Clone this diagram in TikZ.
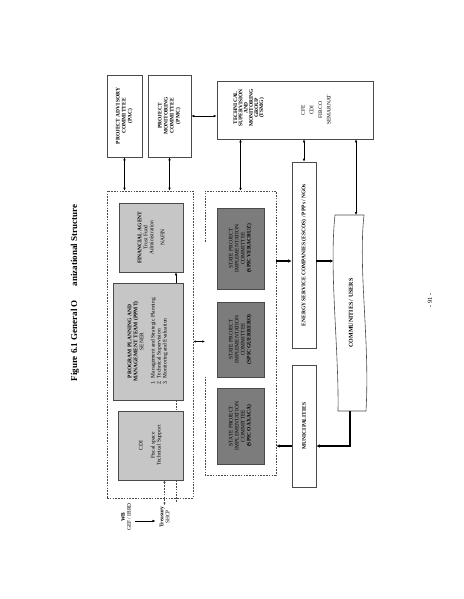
\documentclass[tikz,border=0pt]{standalone}
\usepackage{fontspec}
\setmainfont{Liberation Serif}
\usetikzlibrary{arrows.meta}
\definecolor{lightfill}{HTML}{C6C6C6}
\definecolor{darkfill}{HTML}{7C7C7C}
\definecolor{edge}{HTML}{4A4A4A}
\tikzset{
  box/.style={draw=edge, line width=0.6pt, inner sep=0pt},
  lightbox/.style={box, fill=lightfill},
  darkbox/.style={box, fill=darkfill},
  dbox/.style={draw=edge, line width=0.6pt, dash pattern=on 1.6pt off 1.2pt, inner sep=0pt},
  dline/.style={draw=edge, line width=0.6pt, dash pattern=on 1.6pt off 1.2pt},
  lbl/.style={rotate=90, align=center, inner sep=0pt, font=\fontsize{5.5}{6}\selectfont},
  blbl/.style={lbl, font=\fontsize{5.5}{6}\selectfont\bfseries},
  arr/.style={draw=black, line width=0.6pt, -{Latex[length=3pt,width=2.6pt]}},
  dbl/.style={draw=black, line width=0.6pt, {Latex[length=3pt,width=2.6pt]}-{Latex[length=3pt,width=2.6pt]}},
  ddbl/.style={dline, {Latex[length=2.6pt,width=2.4pt]}-{Latex[length=2.6pt,width=2.4pt]}},
  thickarr/.style={draw=black, line width=1.3pt, -{Latex[length=3.5pt,width=3.5pt]}}
}
\begin{document}
\begin{tikzpicture}[x=1pt,y=-1pt]
\useasboundingbox (0,0) rectangle (463,599);
\fill[white] (0,0) rectangle (463,599);

% title and page number
\node[rotate=90, inner sep=0pt, font=\fontsize{9}{10}\selectfont\bfseries] (title) at (75,293) {Figure 6.1 General O\hspace{14pt}anizational Structure};
\node[lbl, font=\fontsize{6.5}{7}\selectfont] (pageno) at (430,300) {- 91 -};

% top committees
\node[box, minimum width=35, minimum height=82] (pac) at (124.5,116) {};
\node[blbl] (pact) at (pac.center) {PROJECT ADVISORY\\COMMITTEE\\(PAC)};
\node[box, minimum width=43, minimum height=82] (pmc) at (169.5,116) {};
\node[blbl] (pmct) at (pmc.center) {PROJECT\\MONITORING\\COMMITTEE\\(PMC)};
\node[box, minimum width=156, minimum height=58] (tsmg) at (295,110) {};
\node[blbl, font=\fontsize{5.5}{5.2}\selectfont\bfseries] (tsmgt) at (249,108) {TECHNICAL\\SUPERVISION\\AND\\MONITORING\\GROUP\\(TSMG)};
\node[lbl, font=\fontsize{5.5}{8.6}\selectfont] (tsmgm) at (316,110) {CFE\\CDI\\FIRCO\\SEMARNAT};

% left dashed group
\node[dbox, minimum width=86, minimum height=307] (lbox) at (150,344.5) {};
\node[lightbox, minimum width=64, minimum height=69] (fa) at (151,237.5) {};
\node[lbl] (fat) at (fa.center) {\textbf{FINANCIAL AGENT}\\Trust Fund\\Administration\\[5pt]NAFIN};
\node[lightbox, minimum width=70, minimum height=117] (ppmt) at (148,341.5) {};
\node[lbl] (ppmtt) at (ppmt.center) {\textbf{PROGRAM PLANNING AND}\\\textbf{MANAGEMENT TEAM (PPMT)}\\SENER\\[6pt]
  \begin{tabular}{@{}l@{}}1.\enspace Management and Strategic Planning\\2.\enspace Technical Supervision\\3.\enspace Monitoring and Evaluation\end{tabular}};
\node[lightbox, minimum width=65, minimum height=69] (cdi) at (150.5,445.5) {};
\node[lbl] (cdit) at (cdi.center) {CDI\\[6pt]Fiscal space\\Technical Support};

% funding sources (rotated nodes: north = page left, south = page right, east = page top)
\node[lbl] (wb) at (126,517) {\textbf{WB}\\GEF / IBRD};
\node[lbl] (tres) at (164.5,517) {\textbf{Treasury}\\SHCP};
\draw[arr] ([xshift=4pt,yshift=-4pt]wb.south) -- ([xshift=-4pt,yshift=-4pt]tres.north);

% middle dashed group
\node[minimum width=71, minimum height=284, inner sep=0pt] (mbox) at (240.5,333) {};
\draw[dline] (205,242) -- (205,191) -- (276,191) -- (276,475) -- (205,475) -- (205,377);
\node[darkbox, minimum width=47, minimum height=81] (spv) at (240.5,248.5) {};
\node[lbl] (spvt) at (spv.center) {STATE PROJECT\\IMPLEMENTATION\\COMMITTEE\\\textbf{(SPIC VERACRUZ)}};
\node[darkbox, minimum width=47, minimum height=75] (spg) at (240.5,339.5) {};
\node[lbl] (spgt) at (spg.center) {STATE PROJECT\\IMPLEMENTATION\\COMMITTEE\\\textbf{(SPIC GUERRERO)}};
\node[darkbox, minimum width=47, minimum height=76] (spo) at (240.5,426) {};
\node[lbl] (spot) at (spo.center) {STATE PROJECT\\IMPLEMENTATION\\COMMITTEE\\\textbf{(SPIC OAXACA)}};

% right column
\node[box, minimum width=24, minimum height=186] (energy) at (304,255) {};
\node[blbl] (energyt) at (energy.center) {ENERGY SERVICE COMPANIES (ESCOS) / PPPs / NGOs};
\node[box, minimum width=24, minimum height=122] (muni) at (304,426) {};
\node[blbl] (munit) at (muni.center) {MUNICIPALITIES};

% communities (wavy shape)
\draw[edge, line width=0.6pt] (335,215) -- (364,215) .. controls (358,270) and (370,340) .. (366,411)
   -- (338,411) .. controls (339,350) and (329,270) .. (335,215) -- cycle;
\node[blbl, font=\fontsize{6}{6}\selectfont\bfseries] (comm) at (351,313) {COMMUNITIES / USERS};
\coordinate (commtop) at (356,215);
\coordinate (commleft) at (333.5,261);
\coordinate (commbot) at (350,411);
\coordinate (mu) at ([yshift=-20pt]muni.west);

% connectors
\draw[dbl] (pac.south) -- (pac.south |- lbox.north);
\draw[dbl] (pmc.south) -- (pmc.south |- lbox.north);
\draw[dbl] (pmc.east) -- (pmc.east -| tsmg.west);
\draw[dbl] (tsmg.south -| mbox.north) -- (mbox.north);
\draw[dbl] (energy.north) -- (energy.north |- tsmg.south);
\draw[dbl] (commtop) -- (commtop |- tsmg.south);
\draw[arr] ([xshift=28pt]ppmt.north) -- ([xshift=28pt]ppmt.north |- fa.south);
\draw[dline] ([xshift=28pt]ppmt.south) -- ([xshift=28pt]ppmt.south |- cdi.north);
\draw[ddbl] (tres.east |- cdi.south) -- ([yshift=1pt]tres.east);
\draw[dline] ([xshift=25.5pt]cdi.south) -- ++(0,22);
\draw[draw=black, line width=0.6pt, {Latex[length=2.4pt,width=2.4pt]}-{Latex[length=2.4pt,width=2.4pt]}] (lbox.east |- ppmt.east) -- (mbox.west |- ppmt.east);
\draw[thickarr] (mbox.east |- commleft) -- ([yshift=-6pt]energy.west);
\draw[thickarr] ([yshift=-6pt]energy.east) -- (commleft);
\draw[thickarr] (commbot) |- ([yshift=-20pt]muni.east);
\draw[thickarr] (mu) -- (mu -| mbox.east);
\end{tikzpicture}
\end{document}
